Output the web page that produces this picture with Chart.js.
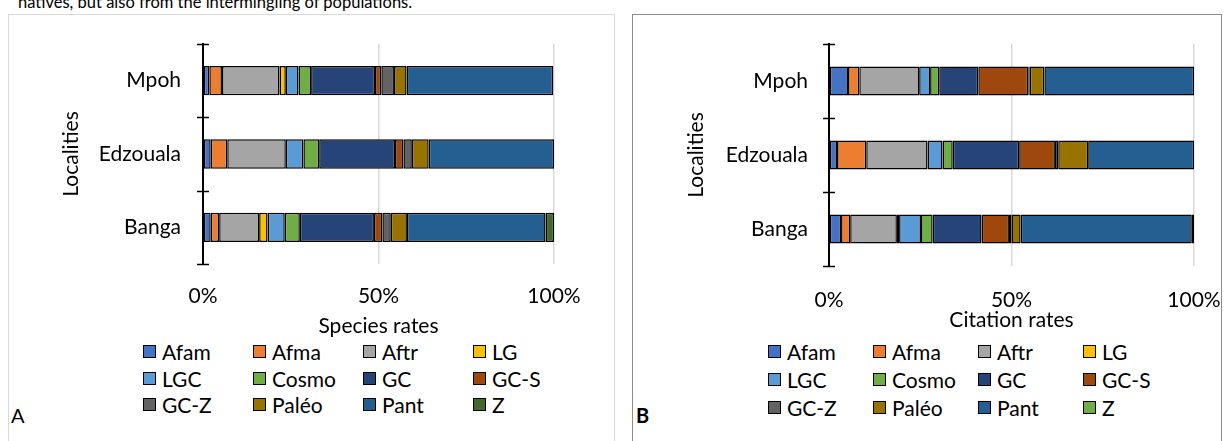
<!DOCTYPE html>
<html>
<head>
<meta charset="utf-8">
<script src="https://cdn.jsdelivr.net/npm/chart.js@4.4.1/dist/chart.umd.min.js"></script>
<style>
  html,body{margin:0;padding:0;background:#fff;}
  body{width:1229px;height:441px;overflow:hidden;position:relative;font-family:Lato,"Noto Sans",sans-serif;color:#000;}
  .panel{position:absolute;box-sizing:border-box;}
  #panelA{left:8px;top:14px;width:607px;height:445px;border:1.5px solid #d9d9d9;}
  #panelB{left:632px;top:14px;width:590px;height:445px;border:1.5px solid #8c8c8c;}
  .wrap{position:absolute;}
  #wrapA{left:9px;top:15px;width:605px;height:324px;}
  #wrapB{left:633px;top:15px;width:588px;height:318px;}
  .legend{position:absolute;font-size:21px;line-height:21px;}
  .item{position:absolute;white-space:nowrap;display:flex;align-items:center;}
  .box{width:13px;height:13px;box-sizing:border-box;border:1.5px solid #000;margin-right:6px;display:inline-block;}
  #caption{position:absolute;left:18px;top:-6px;font-size:16.5px;line-height:16px;white-space:nowrap;}
  .tag{position:absolute;font-size:20px;line-height:20px;}
</style>
</head>
<body>
<div id="caption">natives, but also from the intermingling of populations.</div>
<div class="panel" id="panelA"></div>
<div class="panel" id="panelB"></div>
<div class="wrap" id="wrapA"><canvas id="chartA"></canvas></div>
<div class="wrap" id="wrapB"><canvas id="chartB"></canvas></div>
<div class="legend" id="legendA"></div>
<div class="legend" id="legendB"></div>
<div class="tag" style="left:11px;top:405px;">A</div>
<div class="tag" style="left:636px;top:405px;font-weight:bold;">B</div>
<script>
// ---- data ----
const localities = ['Mpoh', 'Edzouala', 'Banga'];
const groups = ['Afam','Afma','Aftr','LG','LGC','Cosmo','GC','GC-S','GC-Z','Paléo','Pant','Z'];
const xTicks = [0, 50, 100];

// Panel A: species rates (%) per group, one array per locality
const speciesMpoh     = [1.8, 3.6, 16.4, 1.8, 3.6, 3.6, 18.2, 1.8, 3.6, 3.6, 41.8, 0];
const speciesEdzouala = [2.2, 4.7, 16.7, 0,   5.0, 4.5, 21.6, 2.4, 2.4, 4.8, 35.7, 0];
const speciesBanga    = [2.2, 2.4, 11.4, 2.4, 4.9, 4.3, 21.1, 2.4, 2.4, 4.6, 39.5, 2.4];

// Panel B: citation rates (%) per group, one array per locality
const citationMpoh     = [5.2, 3.1, 16.4, 0,   3.0, 2.5, 10.7, 13.7, 0.4, 4.0, 41.0, 0];
const citationEdzouala = [2.2, 8.0, 16.8, 0,   4.1, 2.8, 18.2, 9.8,  0.9, 8.2, 29.0, 0];
const citationBanga    = [3.3, 2.5, 12.8, 0.6, 6.0, 3.2, 13.4, 7.5,  0.7, 2.5, 46.9, 0.6];

const colorsA = ['#4472C4','#ED7D31','#A5A5A5','#FFC000','#5B9BD5','#70AD47','#264478','#9E480E','#636363','#997300','#255E91','#43682B'];
const colorsB = ['#4472C4','#ED7D31','#A5A5A5','#FFC000','#5B9BD5','#70AD47','#264478','#9E480E','#636363','#997300','#255E91','#70AD47'];

const FONT = 'Lato, "Noto Sans", sans-serif';

const crossTicks = {
  id: 'crossTicks',
  afterDraw(chart) {
    const y = chart.scales.y;
    const x0 = chart.chartArea.left;
    const ctx = chart.ctx;
    ctx.save();
    ctx.strokeStyle = '#000';
    ctx.lineWidth = 1.5;
    for (let i = 0; i <= localities.length; i++) {
      const py = Math.round(y.getPixelForValue(i - 0.5)) + 0.5;
      ctx.beginPath();
      ctx.moveTo(x0 - 6, py);
      ctx.lineTo(x0 + 6, py);
      ctx.stroke();
    }
    ctx.restore();
  }
};

function buildChart(id, rows, colors, xTitle, cfg) {
  const datasets = groups.map((g, gi) => ({
    label: g,
    data: rows.map(r => r[gi]),
    backgroundColor: colors[gi],
    borderColor: '#000',
    borderWidth: 1.5,
    borderSkipped: false,
    barPercentage: cfg.barPct,
    categoryPercentage: 1
  }));
  return new Chart(document.getElementById(id), {
    type: 'bar',
    data: { labels: localities, datasets },
    options: {
      indexAxis: 'y',
      responsive: true,
      maintainAspectRatio: false,
      animation: false,
      layout: { padding: { top: cfg.padTop, right: cfg.padRight, bottom: 0, left: 0 } },
      plugins: { legend: { display: false }, tooltip: { enabled: false } },
      scales: {
        x: {
          stacked: true,
          min: 0, max: 100,
          afterBuildTicks: s => { s.ticks = xTicks.map(v => ({ value: v })); },
          ticks: { callback: v => v + '%', color: '#000', font: { family: FONT, size: 21 }, padding: cfg.xTickPad, maxRotation: 0 },
          grid: { color: '#d9d9d9', lineWidth: 1.5, drawTicks: false },
          border: { display: false },
          title: { display: true, text: xTitle, color: '#000', font: { family: FONT, size: 21 }, padding: 0 },
          afterFit: s => { s.height = cfg.xHeight; s.paddingLeft = 0; s.paddingRight = 0; }
        },
        y: {
          stacked: true,
          ticks: { color: '#000', font: { family: FONT, size: 21 }, padding: cfg.yTickPad },
          grid: { display: false, drawTicks: false },
          border: { display: true, color: '#000', width: 2 },
          title: { display: true, text: 'Localities', color: '#000', font: { family: FONT, size: 21 }, padding: { top: cfg.yTitlePad, bottom: 0 } },
          afterFit: s => { s.width = cfg.yWidth; s.paddingTop = 0; s.paddingBottom = 0; }
        }
      }
    },
    plugins: [crossTicks]
  });
}

buildChart('chartA', [speciesMpoh, speciesEdzouala, speciesBanga], colorsA, 'Species rates',
  { barPct: 0.4, padTop: 29, padRight: 60, xHeight: 75, yWidth: 194, yTickPad: 22, yTitlePad: 50, xTickPad: 20 });
buildChart('chartB', [citationMpoh, citationEdzouala, citationBanga], colorsB, 'Citation rates',
  { barPct: 0.39, padTop: 29, padRight: 27, xHeight: 67, yWidth: 196, yTickPad: 21, yTitlePad: 51, xTickPad: 22 });

function buildLegend(id, colors, left, top, colW, rowH) {
  const el = document.getElementById(id);
  el.style.left = left + 'px';
  el.style.top = top + 'px';
  groups.forEach((g, i) => {
    const item = document.createElement('div');
    item.className = 'item';
    item.style.left = ((i % 4) * colW) + 'px';
    item.style.top = (Math.floor(i / 4) * rowH) + 'px';
    const box = document.createElement('span');
    box.className = 'box';
    box.style.background = colors[i];
    const txt = document.createElement('span');
    txt.textContent = g;
    item.appendChild(box);
    item.appendChild(txt);
    el.appendChild(item);
  });
}
buildLegend('legendA', colorsA, 143, 341, 110, 26.5);
buildLegend('legendB', colorsB, 768, 341, 105, 28);
</script>
</body>
</html>
